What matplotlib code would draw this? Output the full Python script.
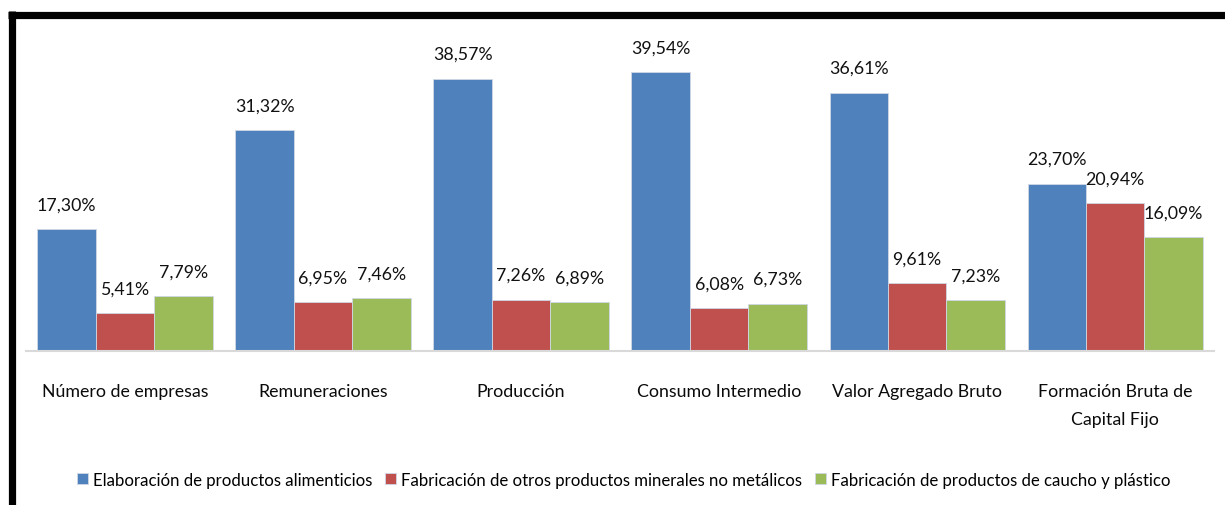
import numpy as np
import matplotlib.pyplot as plt
from matplotlib.lines import Line2D

plt.rcParams['font.family'] = ['Lato', 'DejaVu Sans']

categories = ["Número de empresas", "Remuneraciones", "Producción",
              "Consumo Intermedio", "Valor Agregado Bruto",
              "Formación Bruta de\nCapital Fijo"]
series_names = ["Elaboración de productos alimenticios",
                "Fabricación de otros productos minerales no metálicos",
                "Fabricación de productos de caucho y plástico"]
alimenticios = [17.30, 31.32, 38.57, 39.54, 36.61, 23.70]
minerales = [5.41, 6.95, 7.26, 6.08, 9.61, 20.94]
caucho = [7.79, 7.46, 6.89, 6.73, 7.23, 16.09]
colors = ["#4F81BD", "#C0504D", "#9BBB59"]

fig = plt.figure(figsize=(12.25, 5.06), dpi=100)
ax = fig.add_axes([0.0212, 0.3043, 0.970, 0.628])

x = np.arange(len(categories))
w = 0.295
for i, (vals, col, name) in enumerate(zip([alimenticios, minerales, caucho], colors, series_names)):
    bars = ax.bar(x + (i - 1) * w, vals, w, color=col, edgecolor="#cfd8e6", linewidth=0.6, label=name)
    for b, v in zip(bars, vals):
        ax.annotate(f"{v:.2f}%".replace(".", ","), (b.get_x() + b.get_width() / 2, v),
                    xytext=(0, 12), textcoords="offset points", ha="center", va="bottom",
                    fontsize=12.8, color="#111111", annotation_clip=False)

ax.set_xlim(-0.5, len(categories) - 0.5)
ax.set_ylim(0, 45)
ax.set_yticks([])
ax.set_xticks(x)
ax.set_xticklabels(categories, fontsize=12.8, color="#0a0a0a", linespacing=1.95)
ax.tick_params(axis="x", length=0, pad=23)
for s in ["top", "right", "left"]:
    ax.spines[s].set_visible(False)
ax.spines["bottom"].set_color("#d9d9d9")
ax.spines["bottom"].set_linewidth(1.5)

ax.legend(loc="center", bbox_to_anchor=(0.503, -0.405), ncol=3, frameon=False,
          fontsize=12.1, handlelength=0.65, handleheight=0.65, handletextpad=0.3,
          columnspacing=0.75)

# black frame on top and left
fig.add_artist(Line2D([8 / 1225, 1], [1 - 15.5 / 506] * 2, color="black", linewidth=5.2,
                      transform=fig.transFigure, solid_capstyle="butt"))
fig.add_artist(Line2D([11.5 / 1225] * 2, [0, 1 - 12 / 506], color="black", linewidth=5.2,
                      transform=fig.transFigure, solid_capstyle="butt"))

fig.savefig("out.png", dpi=100)
